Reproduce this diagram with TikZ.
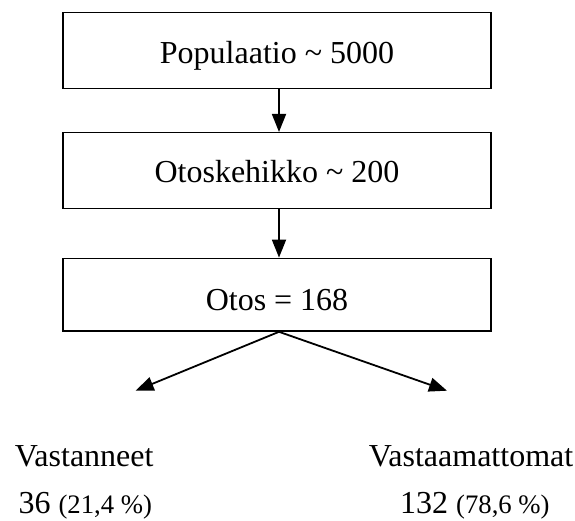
\documentclass[tikz,border=0pt]{standalone}
\usepackage{fontspec}
\setmainfont{Liberation Serif}
\usetikzlibrary{arrows.meta}
\begin{document}
\begin{tikzpicture}[x=1pt,y=-1pt,
  stagebox/.style={draw,line width=1.5pt,inner sep=0pt,minimum width=428pt,
    font=\fontsize{32}{38}\selectfont,align=center},
  flow/.style={line width=1.8pt,-{Triangle[length=18pt,width=14pt]}},
  result/.style={inner sep=0pt,anchor=base west,font=\fontsize{32}{38}\selectfont}]
  \newcommand\pct[1]{{\fontsize{26.7}{32}\selectfont(#1 \%)}}
  \useasboundingbox (0,0) rectangle (575,520);
  \node[stagebox,text height=51pt,text depth=25pt] (pop) at (277,50.3)
    {Populaatio {\char"7E} 5000};
  \node[stagebox,text height=50pt,text depth=25.6pt] (frame) at (277,170.5)
    {Otoskehikko {\char"7E} 200};
  \node[stagebox,text height=51.7pt,text depth=21pt] (sample) at (277,294.7)
    {Otos = 168};
  \coordinate (left) at (135.6,390.7);
  \coordinate (right) at (447,390.7);
  \draw[flow] ([xshift=2pt]pop.south) -- ([xshift=2pt]frame.north);
  \draw[flow] ([xshift=2pt]frame.south) -- ([xshift=2pt]sample.north);
  \draw[flow] ([xshift=2pt]sample.south) -- (left);
  \draw[flow] ([xshift=2pt]sample.south) -- (right);
  \node[result] (resp) at (14.7,466.7) {Vastanneet};
  \node[result] (respn) at (18.4,513) {36 \pct{21,4}};
  \node[result] (nonresp) at (368.6,466.7) {Vastaamattomat};
  \node[result] (nonrespn) at (400,513) {132 \pct{78,6}};
\end{tikzpicture}
\end{document}
